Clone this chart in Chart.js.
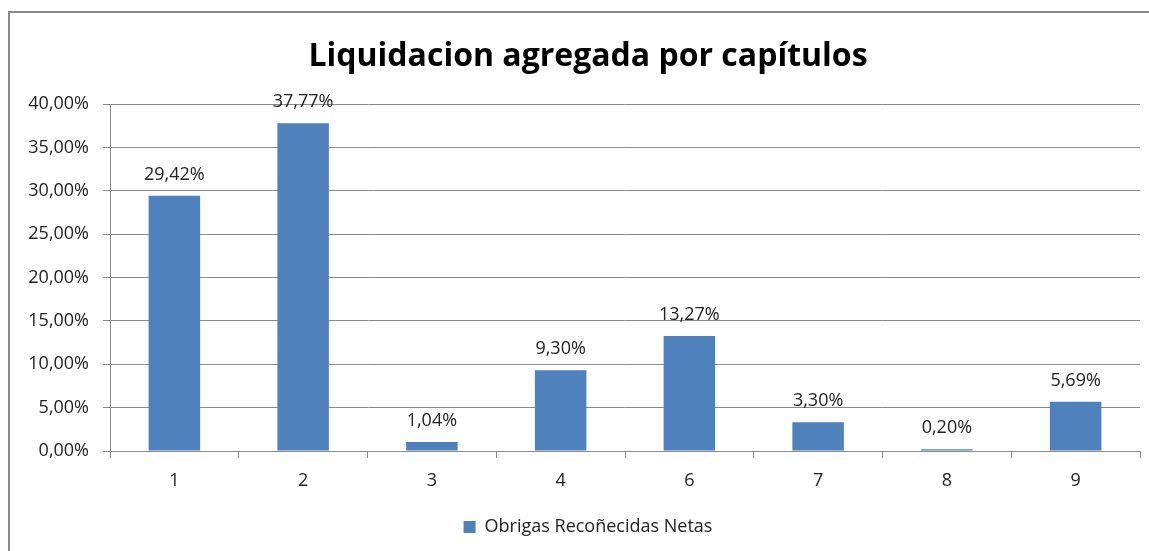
<!DOCTYPE html>
<html>
<head>
<meta charset="utf-8">
<script src="https://cdn.jsdelivr.net/npm/chart.js@4.4.1/dist/chart.umd.min.js"></script>
<style>
  html, body { margin: 0; padding: 0; background: #fff; overflow: hidden; }
  #frame { position: absolute; left: 8px; top: 11px; width: 1200px; height: 600px; border: 2px solid #8a8a8a; box-sizing: border-box; }
  #wrap { position: absolute; left: 0; top: 0; width: 1149px; height: 551px; }
</style>
</head>
<body>
<div id="frame"></div>
<div id="wrap"><canvas id="c" width="1149" height="551"></canvas></div>
<script>
const categories = ['1', '2', '3', '4', '6', '7', '8', '9'];
const values = [29.42, 37.77, 1.04, 9.30, 13.27, 3.30, 0.20, 5.69];
const seriesName = 'Obrigas Recoñecidas Netas';
const titleText = 'Liquidacion agregada por capítulos';
const yTicks = [0, 5, 10, 15, 20, 25, 30, 35, 40];

const FONT = "'Open Sans', 'Noto Sans', sans-serif";
const fmt = v => v.toFixed(2).replace('.', ',') + '%';

const labelPlugin = {
  id: 'barLabels',
  afterLayout(chart) {
    // center title and legend on the outer frame, not on the canvas
    const shift = 18;
    if (chart.titleBlock) { chart.titleBlock.left += shift; chart.titleBlock.right += shift; }
    if (chart.legend) { chart.legend.left += shift; chart.legend.right += shift; }
  },
  afterDatasetsDraw(chart) {
    const ctx = chart.ctx;
    const meta = chart.getDatasetMeta(0);
    ctx.save();
    ctx.font = "18px " + FONT;
    ctx.fillStyle = '#222';
    ctx.textAlign = 'center';
    ctx.textBaseline = 'middle';
    meta.data.forEach((bar, i) => {
      ctx.fillText(fmt(values[i]), bar.x, bar.y - 21);
    });
    ctx.restore();
  }
};

new Chart(document.getElementById('c'), {
  type: 'bar',
  data: {
    labels: categories,
    datasets: [{
      label: seriesName,
      data: values,
      backgroundColor: '#4F81BD',
      borderWidth: 0,
      categoryPercentage: 1.0,
      barPercentage: 0.4
    }]
  },
  options: {
    responsive: false,
    animation: false,
    devicePixelRatio: 1,
    layout: { padding: { left: 0, right: 9, top: 0, bottom: 5 } },
    plugins: {
      title: {
        display: true,
        text: titleText,
        color: '#000',
        font: { family: FONT, size: 32, weight: 'bold', lineHeight: 1.2 },
        padding: { top: 38, bottom: 27.6 }
      },
      legend: {
        position: 'bottom',
        labels: {
          color: '#222',
          font: { family: FONT, size: 18 },
          boxWidth: 12,
          boxHeight: 12,
          padding: 10
        }
      },
      tooltip: { enabled: false }
    },
    scales: {
      x: {
        grid: { drawOnChartArea: false, drawTicks: true, tickLength: 7, color: '#8a8a8a', offset: true },
        border: { color: '#8a8a8a', width: 1 },
        ticks: { color: '#222', font: { family: FONT, size: 18 }, padding: 12 },
        afterFit(scale) { scale.height = 57; }
      },
      y: {
        min: 0,
        max: 40,
        afterBuildTicks(scale) { scale.ticks = yTicks.map(v => ({ value: v })); },
        grid: { color: '#8a8a8a', tickLength: 7, drawTicks: true },
        border: { color: '#8a8a8a', width: 1 },
        ticks: { color: '#222', font: { family: FONT, size: 18 }, padding: 14, callback: v => fmt(v) },
        afterFit(scale) { scale.width = 110; }
      }
    }
  },
  plugins: [labelPlugin]
});
</script>
</body>
</html>
